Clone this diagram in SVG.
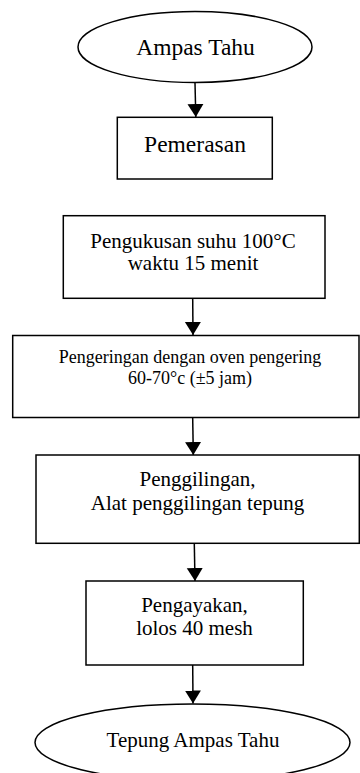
<svg xmlns="http://www.w3.org/2000/svg" width="360" height="773" viewBox="0 0 360 773">
<style>
.s{fill:#fff;stroke:#000;stroke-width:1.5}
.t{font-family:"Liberation Serif","Times New Roman",serif;fill:#000;text-anchor:middle}
.c{stroke:#000;stroke-width:1.5;fill:none;marker-end:url(#ah)}
</style>
<defs>
<marker id="ah" markerUnits="userSpaceOnUse" markerWidth="14" markerHeight="17" refX="13" refY="8" orient="auto">
<path d="M0,0 L13,8 L0,16 Z" fill="#000"/>
</marker>
</defs>
<rect width="360" height="773" fill="#fff"/>
<g id="n1"><ellipse class="s" cx="195" cy="47" rx="117" ry="35.5"/><text class="t" x="195.5" y="55" font-size="23.5">Ampas Tahu</text></g>
<g id="n2"><rect class="s" x="117.3" y="117.3" width="155" height="61.7"/><text class="t" x="195" y="151.7" font-size="23.5">Pemerasan</text></g>
<g id="n3"><rect class="s" x="63.3" y="215.7" width="261.7" height="82.6"/><text class="t" font-size="21"><tspan x="193" y="248.3">Pengukusan suhu 100°C</tspan><tspan x="193" y="270">waktu 15 menit</tspan></text></g>
<g id="n4"><rect class="s" x="12.7" y="335.5" width="346.3" height="82"/><text class="t" font-size="18"><tspan x="190" y="363.3">Pengeringan dengan oven pengering</tspan><tspan x="190" y="384.3">60-70°c (±5 jam)</tspan></text></g>
<g id="n5"><rect class="s" x="36" y="455" width="323.3" height="88.3"/><text class="t" font-size="21"><tspan x="197.5" y="486">Penggilingan,</tspan><tspan x="197.5" y="510">Alat penggilingan tepung</tspan></text></g>
<g id="n6"><rect class="s" x="86" y="581" width="217.3" height="84"/><text class="t" font-size="21"><tspan x="194.5" y="611.7">Pengayakan,</tspan><tspan x="194.5" y="635">lolos 40 mesh</tspan></text></g>
<g id="n7"><ellipse class="s" cx="192.5" cy="742.5" rx="157.5" ry="38.5"/><text class="t" x="193" y="747" font-size="21">Tepung Ampas Tahu</text></g>
<g id="connectors">
<line class="c" x1="195" y1="83" x2="195.8" y2="117"/>
<line class="c" x1="192.7" y1="298.5" x2="193" y2="335"/>
<line class="c" x1="192.7" y1="418" x2="193.3" y2="455"/>
<line class="c" x1="194.3" y1="543.5" x2="195" y2="581"/>
<line class="c" x1="192.7" y1="665" x2="193" y2="703.5"/>
</g>
</svg>
